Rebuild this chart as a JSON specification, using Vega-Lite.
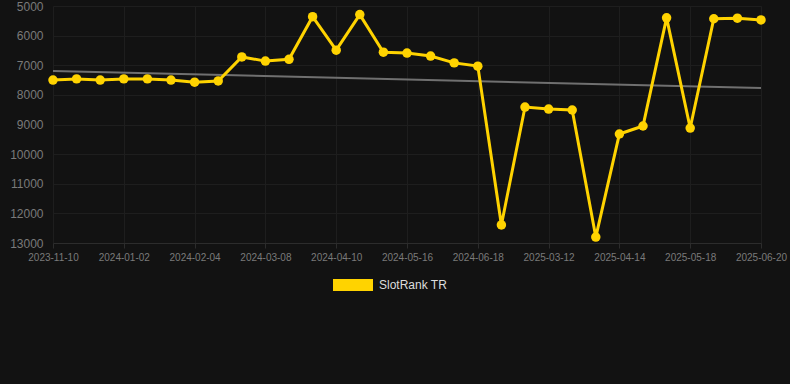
{
  "$schema": "https://vega.github.io/schema/vega-lite/v6.json",
  "width": 708,
  "height": 237,
  "autosize": {"type": "none"},
  "padding": {"left": 53, "top": 6, "right": 29, "bottom": 141},
  "background": "#121212",
  "config": {"view": {"stroke": null}, "font": "Liberation Sans"},
  "datasets": {
    "rank": [
      {"date": "2023-11-10", "rank": 7500, "series": "SlotRank TR"},
      {"date": "2023-11-28", "rank": 7460, "series": "SlotRank TR"},
      {"date": "2023-12-15", "rank": 7500, "series": "SlotRank TR"},
      {"date": "2024-01-02", "rank": 7460, "series": "SlotRank TR"},
      {"date": "2024-01-13", "rank": 7460, "series": "SlotRank TR"},
      {"date": "2024-01-24", "rank": 7500, "series": "SlotRank TR"},
      {"date": "2024-02-04", "rank": 7570, "series": "SlotRank TR"},
      {"date": "2024-02-15", "rank": 7530, "series": "SlotRank TR"},
      {"date": "2024-02-26", "rank": 6720, "series": "SlotRank TR"},
      {"date": "2024-03-08", "rank": 6860, "series": "SlotRank TR"},
      {"date": "2024-03-19", "rank": 6800, "series": "SlotRank TR"},
      {"date": "2024-03-30", "rank": 5360, "series": "SlotRank TR"},
      {"date": "2024-04-10", "rank": 6490, "series": "SlotRank TR"},
      {"date": "2024-04-22", "rank": 5290, "series": "SlotRank TR"},
      {"date": "2024-05-04", "rank": 6560, "series": "SlotRank TR"},
      {"date": "2024-05-16", "rank": 6590, "series": "SlotRank TR"},
      {"date": "2024-05-27", "rank": 6690, "series": "SlotRank TR"},
      {"date": "2024-06-07", "rank": 6920, "series": "SlotRank TR"},
      {"date": "2024-06-18", "rank": 7030, "series": "SlotRank TR"},
      {"date": "2024-07-01", "rank": 12390, "series": "SlotRank TR"},
      {"date": "2025-03-01", "rank": 8410, "series": "SlotRank TR"},
      {"date": "2025-03-12", "rank": 8480, "series": "SlotRank TR"},
      {"date": "2025-03-23", "rank": 8510, "series": "SlotRank TR"},
      {"date": "2025-04-03", "rank": 12800, "series": "SlotRank TR"},
      {"date": "2025-04-14", "rank": 9320, "series": "SlotRank TR"},
      {"date": "2025-04-25", "rank": 9050, "series": "SlotRank TR"},
      {"date": "2025-05-07", "rank": 5400, "series": "SlotRank TR"},
      {"date": "2025-05-18", "rank": 9120, "series": "SlotRank TR"},
      {"date": "2025-05-29", "rank": 5430, "series": "SlotRank TR"},
      {"date": "2025-06-09", "rank": 5410, "series": "SlotRank TR"},
      {"date": "2025-06-20", "rank": 5470, "series": "SlotRank TR"}
    ],
    "trend": [
      {"date": "2023-11-10", "rank": 7190},
      {"date": "2025-06-20", "rank": 7770}
    ]
  },
  "encoding": {
    "x": {
      "field": "date",
      "type": "nominal",
      "title": null,
      "scale": {
        "type": "point",
        "padding": 0,
        "domain": ["2023-11-10","2023-11-28","2023-12-15","2024-01-02","2024-01-13","2024-01-24","2024-02-04","2024-02-15","2024-02-26","2024-03-08","2024-03-19","2024-03-30","2024-04-10","2024-04-22","2024-05-04","2024-05-16","2024-05-27","2024-06-07","2024-06-18","2024-07-01","2025-03-01","2025-03-12","2025-03-23","2025-04-03","2025-04-14","2025-04-25","2025-05-07","2025-05-18","2025-05-29","2025-06-09","2025-06-20"]
      },
      "axis": {
        "values": ["2023-11-10","2024-01-02","2024-02-04","2024-03-08","2024-04-10","2024-05-16","2024-06-18","2025-03-12","2025-04-14","2025-05-18","2025-06-20"],
        "labelAngle": 0,
        "labelColor": "#7a7a7a",
        "labelFontSize": 10,
        "labelPadding": 4,
        "grid": true,
        "gridColor": "#1e1e1e",
        "domainColor": "#2c2c2c",
        "tickColor": "#2c2c2c",
        "tickSize": 5
      }
    },
    "y": {
      "field": "rank",
      "type": "quantitative",
      "title": null,
      "scale": {"domain": [5000, 13000], "reverse": true, "nice": false, "zero": false},
      "axis": {
        "values": [5000, 6000, 7000, 8000, 9000, 10000, 11000, 12000, 13000],
        "format": "d",
        "labelColor": "#7a7a7a",
        "labelFontSize": 12,
        "labelPadding": 10,
        "ticks": false,
        "tickSize": 0,
        "domain": false,
        "grid": true,
        "gridColor": "#1e1e1e"
      }
    }
  },
  "layer": [
    {
      "data": {"name": "trend"},
      "mark": {"type": "line", "color": "#707070", "strokeWidth": 2}
    },
    {
      "data": {"name": "rank"},
      "mark": {"type": "line", "strokeWidth": 3, "point": {"size": 90, "filled": true}},
      "encoding": {
        "color": {
          "field": "series",
          "type": "nominal",
          "scale": {"domain": ["SlotRank TR"], "range": ["#FFD300"]},
          "legend": {
            "title": null,
            "orient": "none",
            "legendX": 280,
            "legendY": 259,
            "padding": 0,
            "symbolType": "M-1,-0.3H1V0.3H-1Z",
            "symbolSize": 1600,
            "symbolFillColor": "#FFD300",
            "symbolStrokeWidth": 0,
            "labelColor": "#dddddd",
            "labelFontSize": 12,
            "labelOffset": 6,
            "encode": {"symbols": {"update": {"fill": {"value": "#FFD300"}, "stroke": {"value": "#FFD300"}, "strokeWidth": {"value": 0}}}}
          }
        }
      }
    }
  ]
}
